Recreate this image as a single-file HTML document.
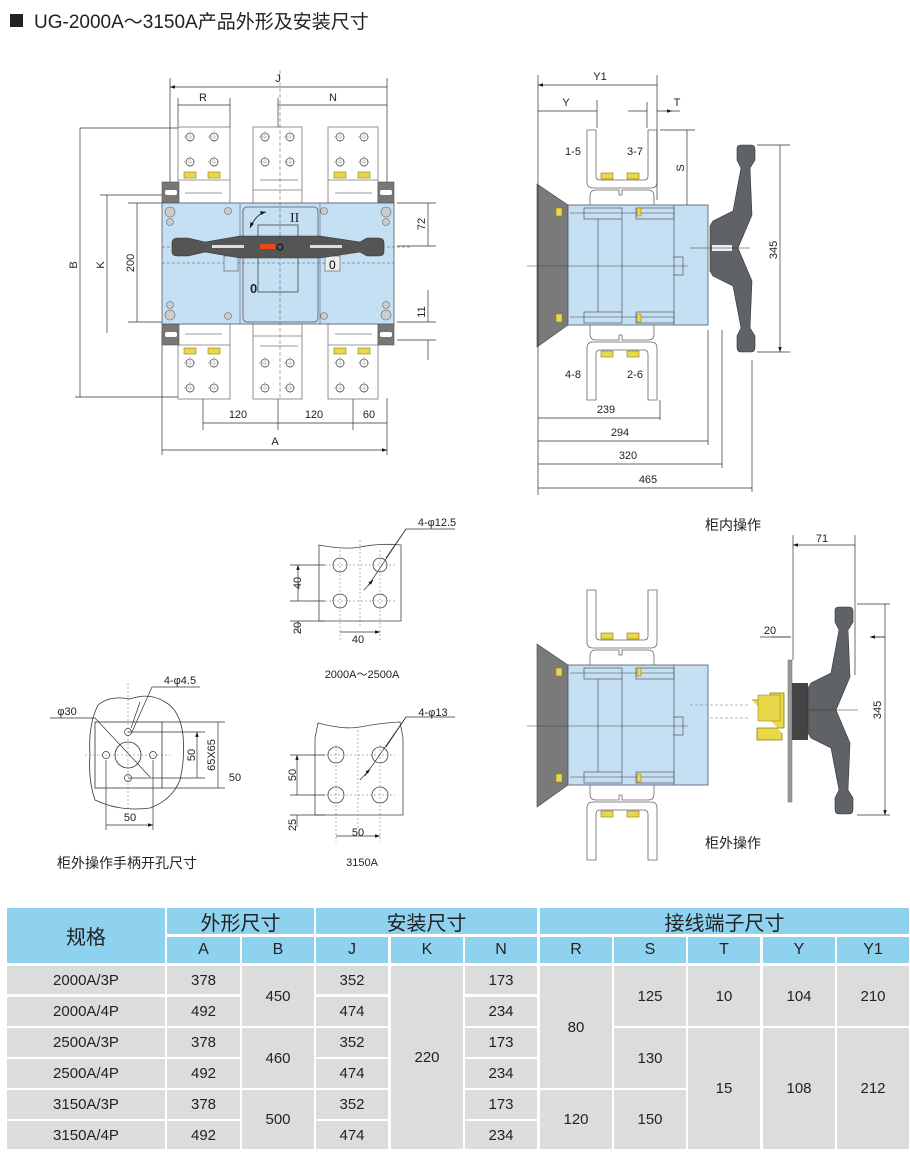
<!DOCTYPE html>
<html><head><meta charset="utf-8">
<style>
body{margin:0;background:#fff;width:910px;height:1154px;position:relative;overflow:hidden;font-family:"Liberation Sans","Noto Sans CJK SC",sans-serif;}
svg{position:absolute;left:0;top:0}
.c{position:absolute;display:flex;align-items:center;justify-content:center;font-size:15px;color:#222;box-sizing:border-box}
.h{background:#8fd2f0;font-size:20px}
.hs{background:#8fd2f0;font-size:16px}
.d{background:#dcdcdc}
</style></head><body>
<svg width="910" height="900" viewBox="0 0 910 900" font-family="Liberation Sans, Noto Sans CJK SC, sans-serif">
<defs>
<marker id="a" viewBox="0 0 10 10" refX="10" refY="5" markerWidth="7" markerHeight="7" orient="auto-start-reverse"><path d="M0,1.5 L10,5 L0,8.5z" fill="#111"/></marker>
<g id="hole"><circle r="4" fill="#fff" stroke="#555" stroke-width="0.8"/><path d="M-6,0H6M0,-6V6" stroke="#777" stroke-width="0.5" stroke-dasharray="2,1"/></g>
<g id="nut"><rect x="-6" y="-3" width="12" height="6" fill="#e8d84a" stroke="#8a7a10" stroke-width="0.6"/></g>
<path id="hdl" d="M737,148 Q737,145 741,145 H751 Q755,145 755,149 V160 L750,168 L752,215 L738,248 L752,281 L750,328 L755,336 V347 Q755,352 751,352 H741 Q737,352 737,347 V336 L741,328 L733,286 L713,276 L710,271 V226 L713,221 L733,211 L741,168 L737,160 Z" fill="#5f6266" stroke="#333" stroke-width="0.6"/>
</defs>
<rect x="10" y="14" width="13" height="13" fill="#222"/>
<text x="34" y="28" font-size="19" fill="#222">UG-2000A～3150A产品外形及安装尺寸</text>

<g stroke="#333" stroke-width="0.7" fill="none">
<path d="M170,78V182M387,78V182M178,98V127M230,98V127M278,98V127M80,128H178M75,397H178M100,195H162M128,203H162M128,322H162M397,203H436M397,246H436M397,322H436M397,340H436M203,398V430M278,398V430M353,398V430M387,398V455M162,330V455"/>
<path d="M170,87H387M178,105H230M278,105H387M80,128V397M107,195V333M137,203V322M428,203V246M428,290V322M428,340V360M203,423H278M278,423H353M353,423H387M162,450H387" marker-start="url(#a)" marker-end="url(#a)"/>
</g>
<g font-size="11" fill="#222" text-anchor="middle">
<text x="278" y="82">J</text><text x="203" y="101">R</text><text x="333" y="101">N</text>
<text x="238" y="418">120</text><text x="314" y="418">120</text><text x="369" y="418">60</text><text x="275" y="445">A</text>
<text transform="translate(77,265) rotate(-90)">B</text>
<text transform="translate(104,265) rotate(-90)">K</text>
<text transform="translate(134,263) rotate(-90)">200</text>
<text transform="translate(425,224) rotate(-90)">72</text>
<text transform="translate(425,312) rotate(-90)">11</text>
</g>
<g stroke="#777" stroke-width="0.8" fill="#fff">
<rect x="178" y="127" width="52" height="76"/><rect x="253" y="127" width="49" height="76"/><rect x="328" y="127" width="50" height="76"/>
<rect x="178" y="324" width="52" height="75"/><rect x="253" y="324" width="49" height="75"/><rect x="328" y="324" width="50" height="75"/>
<path d="M178,180H230M185,193H222M328,180H378M335,193H372M253,190H302M260,180H298M178,345H230M185,334H222M328,345H378M335,334H372M253,336H302M260,346H298"/>
</g>
<g fill="#777" stroke="#555" stroke-width="0.6">
<rect x="162" y="182" width="17" height="21"/><rect x="378" y="182" width="16" height="21"/>
<rect x="162" y="324" width="17" height="21"/><rect x="378" y="324" width="16" height="21"/>
</g>
<g fill="#fff"><rect x="165" y="190" width="12" height="5" rx="2"/><rect x="380" y="190" width="12" height="5" rx="2"/><rect x="165" y="332" width="12" height="5" rx="2"/><rect x="380" y="332" width="12" height="5" rx="2"/></g>
<g>
<use href="#hole" x="190" y="137"/><use href="#hole" x="214" y="137"/><use href="#hole" x="190" y="162"/><use href="#hole" x="214" y="162"/>
<use href="#hole" x="265" y="137"/><use href="#hole" x="290" y="137"/><use href="#hole" x="265" y="162"/><use href="#hole" x="290" y="162"/>
<use href="#hole" x="340" y="137"/><use href="#hole" x="364" y="137"/><use href="#hole" x="340" y="162"/><use href="#hole" x="364" y="162"/>
<use href="#hole" x="190" y="363"/><use href="#hole" x="214" y="363"/><use href="#hole" x="190" y="388"/><use href="#hole" x="214" y="388"/>
<use href="#hole" x="265" y="363"/><use href="#hole" x="290" y="363"/><use href="#hole" x="265" y="388"/><use href="#hole" x="290" y="388"/>
<use href="#hole" x="340" y="363"/><use href="#hole" x="364" y="363"/><use href="#hole" x="340" y="388"/><use href="#hole" x="364" y="388"/>
<use href="#nut" x="190" y="175"/><use href="#nut" x="214" y="175"/><use href="#nut" x="340" y="175"/><use href="#nut" x="364" y="175"/>
<use href="#nut" x="190" y="351"/><use href="#nut" x="214" y="351"/><use href="#nut" x="340" y="351"/><use href="#nut" x="364" y="351"/>
</g>
<rect x="162" y="203" width="232" height="121" fill="#c5e0f3" stroke="#556" stroke-width="0.8"/>
<rect x="243" y="207" width="75" height="115" rx="4" fill="#c5e0f3" stroke="#556" stroke-width="0.8"/>
<path d="M240,203V324M320,203V324" stroke="#556" stroke-width="0.6"/>
<rect x="258" y="225" width="40" height="67" fill="none" stroke="#444" stroke-width="0.8"/>
<path d="M162,263H394M162,247H410" stroke="#555" stroke-width="0.5" stroke-dasharray="3,2"/>
<path d="M280,70V400" stroke="#555" stroke-width="0.5" stroke-dasharray="4,2"/>
<rect x="224" y="256" width="14" height="15" fill="#c5e0f3" stroke="#555" stroke-width="0.6"/>
<rect x="325" y="256" width="15" height="15" fill="#eee" stroke="#555" stroke-width="0.6"/>
<text x="329" y="269" font-size="12">0</text>
<text x="250" y="293" font-size="13" font-weight="bold" fill="#222">0</text>
<text x="290" y="222" font-size="14" font-family="Liberation Serif" fill="#222">II</text>
<path d="M250,228 Q256,214 266,212" fill="none" stroke="#111" stroke-width="0.8" marker-start="url(#a)" marker-end="url(#a)"/>
<path d="M172,243 Q172,238 178,238 H188 L205,242 L240,236 H320 L360,242 L367,238 H378 Q384,238 384,243 V252 Q384,256 378,256 H367 L360,252 L320,258 H240 L205,252 L188,256 H178 Q172,256 172,252Z" fill="#555" stroke="#333" stroke-width="0.6"/>
<rect x="212" y="245" width="32" height="3" fill="#ddd"/><rect x="310" y="245" width="32" height="3" fill="#ddd"/>
<rect x="260" y="244" width="15" height="5" fill="#e84a1a"/>
<circle cx="280" cy="247" r="3" fill="none" stroke="#111"/>
<g fill="#ccc" stroke="#666" stroke-width="0.6">
<circle cx="170" cy="212" r="5"/><circle cx="386" cy="212" r="5"/><circle cx="170" cy="315" r="5"/><circle cx="386" cy="315" r="5"/>
<circle cx="228" cy="211" r="3.5"/><circle cx="324" cy="211" r="3.5"/><circle cx="228" cy="316" r="3.5"/><circle cx="324" cy="316" r="3.5"/>
<circle cx="170" cy="222" r="3.5"/><circle cx="386" cy="222" r="3.5"/><circle cx="170" cy="305" r="3.5"/><circle cx="386" cy="305" r="3.5"/>
</g>

<g id="side">
<g fill="#fff" stroke="#666" stroke-width="0.8">
<path d="M587,130H596V176Q596,180 600,180H644Q648,180 648,176V130H657V182Q657,188 651,188H593Q587,188 587,182Z"/>
<path d="M590,205V196Q590,190 596,190H619V195H622V190H648Q654,190 654,196V205"/>
<path d="M587,400H596V354Q596,350 600,350H644Q648,350 648,354V400H657V348Q657,342 651,342H593Q587,342 587,348Z"/>
<path d="M590,325V334Q590,340 596,340H619V335H622V340H648Q654,340 654,334V325"/>
</g>
<use href="#nut" x="607" y="176"/><use href="#nut" x="633" y="176"/><use href="#nut" x="607" y="354"/><use href="#nut" x="633" y="354"/>
<path d="M537,184L568,205V325L537,347Z" fill="#7a7a7a" stroke="#444" stroke-width="0.6"/>
<rect x="568" y="205" width="140" height="120" fill="#c5e0f3" stroke="#556" stroke-width="0.8"/>
<g fill="none" stroke="#556" stroke-width="0.7">
<path d="M674,205V325M598,219V312M622,219V312"/>
<rect x="584" y="208" width="38" height="11"/><rect x="636" y="208" width="38" height="11"/>
<rect x="584" y="312" width="38" height="11"/><rect x="636" y="312" width="38" height="11"/>
<path d="M673,257H683V275H673"/>
</g>
<path d="M527,266H688M570,213H674M570,317H674" stroke="#444" stroke-width="0.5"/>
<g fill="#e8d84a" stroke="#8a7a10" stroke-width="0.5"><rect x="556" y="208" width="6" height="8"/><rect x="556" y="314" width="6" height="8"/><rect x="637" y="208" width="4" height="8"/><rect x="637" y="314" width="4" height="8"/></g>
</g>
<use href="#hdl"/>
<rect x="712" y="245" width="20" height="6" fill="#eee"/>
<path d="M690,248H750" stroke="#333" stroke-width="0.5"/>
<g stroke="#333" stroke-width="0.7" fill="none">
<path d="M538,75V495M657,75V200M597,100V128M647,102V128M660,130H695M757,145H790M757,352H790M660,400V420M708,330V445M722,330V468M752,360V492"/>
<path d="M538,85H657M538,111H597M538,418H660M538,441H708M538,464H722M538,488H752M687,130V205M780,145V352" marker-start="url(#a)" marker-end="url(#a)"/>
<path d="M628,111H647M667,111H680M657,111H672" marker-end="url(#a)"/>
</g>
<g font-size="11" fill="#222" text-anchor="middle">
<text x="600" y="80">Y1</text><text x="566" y="106">Y</text><text x="677" y="106">T</text>
<text x="573" y="155">1-5</text><text x="635" y="155">3-7</text><text x="573" y="378">4-8</text><text x="635" y="378">2-6</text>
<text transform="translate(684,168) rotate(-90)">S</text>
<text transform="translate(777,250) rotate(-90)">345</text>
<text x="606" y="413">239</text><text x="620" y="436">294</text><text x="628" y="459">320</text><text x="648" y="483">465</text>
</g>
<text x="705" y="530" font-size="14" fill="#222">柜内操作</text>

<g transform="translate(0,460)">
<g fill="#fff" stroke="#666" stroke-width="0.8">
<path d="M587,130H596V176Q596,180 600,180H644Q648,180 648,176V130H657V182Q657,188 651,188H593Q587,188 587,182Z"/>
<path d="M590,205V196Q590,190 596,190H619V195H622V190H648Q654,190 654,196V205"/>
<path d="M587,400H596V354Q596,350 600,350H644Q648,350 648,354V400H657V348Q657,342 651,342H593Q587,342 587,348Z"/>
<path d="M590,325V334Q590,340 596,340H619V335H622V340H648Q654,340 654,334V325"/>
</g>
<use href="#nut" x="607" y="176"/><use href="#nut" x="633" y="176"/><use href="#nut" x="607" y="354"/><use href="#nut" x="633" y="354"/>
<path d="M537,184L568,205V325L537,347Z" fill="#7a7a7a" stroke="#444" stroke-width="0.6"/>
<rect x="568" y="205" width="140" height="120" fill="#c5e0f3" stroke="#556" stroke-width="0.8"/>
<g fill="none" stroke="#556" stroke-width="0.7">
<path d="M674,205V325M598,219V312M622,219V312"/>
<rect x="584" y="208" width="38" height="11"/><rect x="636" y="208" width="38" height="11"/>
<rect x="584" y="312" width="38" height="11"/><rect x="636" y="312" width="38" height="11"/>
<path d="M673,257H683V275H673"/>
</g>
<path d="M527,266H688M570,213H674M570,317H674" stroke="#444" stroke-width="0.5"/>
<g fill="#e8d84a" stroke="#8a7a10" stroke-width="0.5"><rect x="556" y="208" width="6" height="8"/><rect x="556" y="314" width="6" height="8"/><rect x="637" y="208" width="4" height="8"/><rect x="637" y="314" width="4" height="8"/></g>
</g>
<path d="M690,705H750M710,718H750" stroke="#777" stroke-width="0.6" stroke-dasharray="3,2"/>
<path d="M752,700H770V693H784V728H757V740H782V733" fill="#e8d84a" stroke="#8a7a10" stroke-width="0.8"/>
<rect x="758" y="695" width="22" height="26" fill="#e8d84a" stroke="#8a7a10" stroke-width="0.5"/>
<rect x="788" y="660" width="4" height="142" fill="#999" stroke="#666" stroke-width="0.5"/>
<rect x="792" y="683" width="16" height="57" fill="#444"/>
<use href="#hdl" transform="translate(98,462)"/>
<path d="M808,710H858" stroke="#333" stroke-width="0.5"/>
<g stroke="#333" stroke-width="0.7" fill="none">
<path d="M793,535V660M855,535V675M857,604H890M857,815H890M760,637H790M873,637H885"/>
<path d="M793,545H855M885,604V815" marker-start="url(#a)" marker-end="url(#a)"/>
<path d="M772,637H791M885,637H870" marker-end="url(#a)"/>
</g>
<g font-size="11" fill="#222" text-anchor="middle">
<text x="822" y="542">71</text><text x="770" y="634">20</text>
<text transform="translate(881,710) rotate(-90)">345</text>
</g>
<text x="705" y="848" font-size="14" fill="#222">柜外操作</text>

<path d="M319,545 Q345,550 360,547 Q380,543 401,545V621H319Z" fill="#fff" stroke="#444" stroke-width="0.8"/>
<g fill="none" stroke="#444" stroke-width="0.8"><circle cx="340" cy="565" r="7"/><circle cx="380" cy="565" r="7"/><circle cx="340" cy="601" r="7"/><circle cx="380" cy="601" r="7"/></g>
<path d="M360,540V628M340,550V640M380,550V640M325,565H395M325,601H395" stroke="#666" stroke-width="0.5" stroke-dasharray="2,2" fill="none"/>
<g stroke="#333" stroke-width="0.7" fill="none">
<path d="M290,565H325M290,601H325M290,621H325M368,586L406,529H455"/>
<path d="M298,565V601M340,632H380" marker-start="url(#a)" marker-end="url(#a)"/>
<path d="M298,633V621M406,529L386,558M364,590L373,580" marker-end="url(#a)"/>
</g>
<g font-size="11" fill="#222" text-anchor="middle">
<text transform="translate(301,583) rotate(-90)">40</text><text transform="translate(301,628) rotate(-90)">20</text>
<text x="358" y="643">40</text><text x="437" y="526">4-φ12.5</text><text x="362" y="678">2000A～2500A</text>
</g>
<path d="M315,738L318,723Q345,730 360,727Q380,723 400,722L403,738V815H315Z" fill="#fff" stroke="#444" stroke-width="0.8"/>
<g fill="none" stroke="#444" stroke-width="0.8"><circle cx="336" cy="755" r="8"/><circle cx="380" cy="755" r="8"/><circle cx="336" cy="795" r="8"/><circle cx="380" cy="795" r="8"/></g>
<path d="M358,730V830M336,745V842M380,745V842M322,755H395M322,795H395" stroke="#666" stroke-width="0.5" stroke-dasharray="2,2" fill="none"/>
<g stroke="#333" stroke-width="0.7" fill="none">
<path d="M290,755H325M290,795H325M290,815H325M365,776L406,717H455"/>
<path d="M297,755V795M336,836H380" marker-start="url(#a)" marker-end="url(#a)"/>
<path d="M297,827V815M406,717L386,747M360,780L370,769" marker-end="url(#a)"/>
</g>
<g font-size="11" fill="#222" text-anchor="middle">
<text transform="translate(296,775) rotate(-90)">50</text><text transform="translate(296,825) rotate(-90)">25</text>
<text x="358" y="836">50</text><text x="433" y="716">4-φ13</text><text x="362" y="866">3150A</text>
</g>
<path d="M98,705Q110,695 130,699Q150,692 165,702Q180,710 183,735Q185,760 180,780Q172,800 150,808Q120,812 95,800Q88,780 90,755Q88,725 98,705Z" fill="#fff" stroke="#333" stroke-width="0.8"/>
<rect x="95" y="722" width="67" height="66" fill="none" stroke="#333" stroke-width="0.8"/>
<circle cx="128" cy="755" r="13" fill="none" stroke="#333" stroke-width="0.8"/>
<g fill="none" stroke="#333" stroke-width="0.7"><circle cx="128" cy="732" r="3.5"/><circle cx="106" cy="755" r="3.5"/><circle cx="153" cy="755" r="3.5"/><circle cx="128" cy="778" r="3.5"/></g>
<path d="M128,683V810M85,755H170" stroke="#666" stroke-width="0.5" stroke-dasharray="2,2"/>
<g stroke="#333" stroke-width="0.7" fill="none">
<path d="M50,718H95L150,777M132,732L152,687H200M128,732H205M128,778H205M162,722H225M162,788H225M106,760V830M153,760V830"/>
<path d="M197,732V778M218,722V788M106,825H153" marker-start="url(#a)" marker-end="url(#a)"/>
<path d="M140,702L131,728"/>
</g>
<g font-size="11" fill="#222" text-anchor="middle">
<text x="67" y="715">φ30</text><text x="180" y="684">4-φ4.5</text>
<text transform="translate(195,755) rotate(-90)">50</text><text transform="translate(215,755) rotate(-90)">65X65</text>
<text x="235" y="781">50</text><text x="130" y="821">50</text>
</g>
<text x="57" y="868" font-size="14" fill="#222">柜外操作手柄开孔尺寸</text>
</svg>

<div class="c h" style="left:7px;top:908px;width:158px;height:55px">规格</div>
<div class="c h" style="left:167px;top:908px;width:147px;height:26px">外形尺寸</div>
<div class="c h" style="left:316px;top:908px;width:221px;height:26px">安装尺寸</div>
<div class="c h" style="left:540px;top:908px;width:369px;height:26px">接线端子尺寸</div>
<div class="c hs" style="left:167px;top:937px;width:73px;height:26px">A</div>
<div class="c hs" style="left:242px;top:937px;width:72px;height:26px">B</div>
<div class="c hs" style="left:316px;top:937px;width:72px;height:26px">J</div>
<div class="c hs" style="left:391px;top:937px;width:72px;height:26px">K</div>
<div class="c hs" style="left:465px;top:937px;width:72px;height:26px">N</div>
<div class="c hs" style="left:540px;top:937px;width:72px;height:26px">R</div>
<div class="c hs" style="left:614px;top:937px;width:72px;height:26px">S</div>
<div class="c hs" style="left:688px;top:937px;width:72px;height:26px">T</div>
<div class="c hs" style="left:763px;top:937px;width:72px;height:26px">Y</div>
<div class="c hs" style="left:837px;top:937px;width:72px;height:26px">Y1</div>

<div class="c d" style="left:7px;top:966px;width:158px;height:28px">2000A/3P</div>
<div class="c d" style="left:7px;top:997px;width:158px;height:29px">2000A/4P</div>
<div class="c d" style="left:7px;top:1028px;width:158px;height:29px">2500A/3P</div>
<div class="c d" style="left:7px;top:1059px;width:158px;height:29px">2500A/4P</div>
<div class="c d" style="left:7px;top:1090px;width:158px;height:29px">3150A/3P</div>
<div class="c d" style="left:7px;top:1121px;width:158px;height:28px">3150A/4P</div>

<div class="c d" style="left:167px;top:966px;width:73px;height:28px">378</div>
<div class="c d" style="left:167px;top:997px;width:73px;height:29px">492</div>
<div class="c d" style="left:167px;top:1028px;width:73px;height:29px">378</div>
<div class="c d" style="left:167px;top:1059px;width:73px;height:29px">492</div>
<div class="c d" style="left:167px;top:1090px;width:73px;height:29px">378</div>
<div class="c d" style="left:167px;top:1121px;width:73px;height:28px">492</div>

<div class="c d" style="left:242px;top:966px;width:72px;height:60px">450</div>
<div class="c d" style="left:242px;top:1028px;width:72px;height:60px">460</div>
<div class="c d" style="left:242px;top:1090px;width:72px;height:59px">500</div>

<div class="c d" style="left:316px;top:966px;width:72px;height:28px">352</div>
<div class="c d" style="left:316px;top:997px;width:72px;height:29px">474</div>
<div class="c d" style="left:316px;top:1028px;width:72px;height:29px">352</div>
<div class="c d" style="left:316px;top:1059px;width:72px;height:29px">474</div>
<div class="c d" style="left:316px;top:1090px;width:72px;height:29px">352</div>
<div class="c d" style="left:316px;top:1121px;width:72px;height:28px">474</div>

<div class="c d" style="left:391px;top:966px;width:72px;height:183px">220</div>

<div class="c d" style="left:465px;top:966px;width:72px;height:28px">173</div>
<div class="c d" style="left:465px;top:997px;width:72px;height:29px">234</div>
<div class="c d" style="left:465px;top:1028px;width:72px;height:29px">173</div>
<div class="c d" style="left:465px;top:1059px;width:72px;height:29px">234</div>
<div class="c d" style="left:465px;top:1090px;width:72px;height:29px">173</div>
<div class="c d" style="left:465px;top:1121px;width:72px;height:28px">234</div>

<div class="c d" style="left:540px;top:966px;width:72px;height:122px">80</div>
<div class="c d" style="left:540px;top:1090px;width:72px;height:59px">120</div>

<div class="c d" style="left:614px;top:966px;width:72px;height:60px">125</div>
<div class="c d" style="left:614px;top:1028px;width:72px;height:60px">130</div>
<div class="c d" style="left:614px;top:1090px;width:72px;height:59px">150</div>

<div class="c d" style="left:688px;top:966px;width:72px;height:60px">10</div>
<div class="c d" style="left:688px;top:1028px;width:72px;height:121px">15</div>
<div class="c d" style="left:763px;top:966px;width:72px;height:60px">104</div>
<div class="c d" style="left:763px;top:1028px;width:72px;height:121px">108</div>
<div class="c d" style="left:837px;top:966px;width:72px;height:60px">210</div>
<div class="c d" style="left:837px;top:1028px;width:72px;height:121px">212</div>
</body></html>
